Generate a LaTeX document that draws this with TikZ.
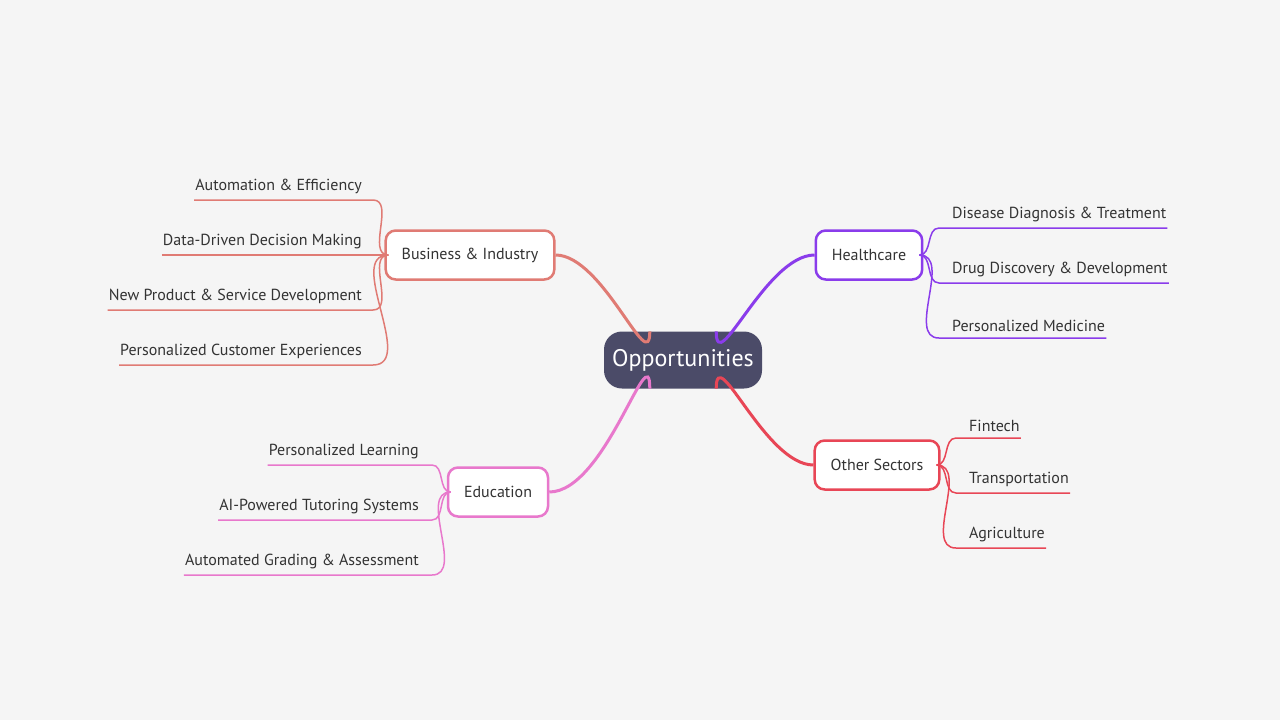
\documentclass[tikz,border=0pt]{standalone}
\usepackage{fontspec}
\setmainfont{PT Sans}
\usetikzlibrary{calc}
\definecolor{bgcol}{HTML}{F5F5F5}
\definecolor{centercol}{HTML}{4B4B68}
\definecolor{bizcol}{HTML}{E07B74}
\definecolor{educol}{HTML}{E878CC}
\definecolor{healthcol}{HTML}{8A3CEB}
\definecolor{othercol}{HTML}{E84656}
\definecolor{txtcol}{HTML}{333333}
\tikzset{
  topic/.style={draw=#1, line width=2.5pt, fill=white, rounded corners=10pt,
    minimum height=49pt, inner xsep=16pt, font=\fontsize{16}{18}\selectfont, text=txtcol},
  leaf/.style={inner xsep=1pt, inner ysep=6pt, font=\fontsize{16}{18}\selectfont, text=txtcol},
  branch/.style={draw=#1, line width=3pt},
  twig/.style={draw=#1, line width=1.5pt},
}
\begin{document}
\begin{tikzpicture}[x=1pt, y=-1pt]
\fill[bgcol] (0,0) rectangle (1280,720);
\useasboundingbox (0,0) rectangle (1280,720);
% center
\node[fill=centercol, text=white, rounded corners=18pt, minimum width=158pt, minimum height=57pt,
  font=\fontsize{24}{28}\selectfont] (Opp) at (683,360) {Opportunities};
% main topics
\node[topic=bizcol] (Biz) at (470,255) {Business \& Industry};
\node[topic=educol] (Edu) at (498,492) {Education};
\node[topic=healthcol] (Health) at (869,255) {Healthcare};
\node[topic=othercol] (Other) at (877,465) {Other Sectors};
\draw[branch=bizcol] (Opp.north west)+(46,0) to[out=270,in=0] (Biz.east);
\draw[branch=healthcol] (Opp.north east)+(-46,0) to[out=270,in=180] (Health.west);
\draw[branch=educol] (Opp.south west)+(46,0) to[out=90,in=0] (Edu.east);
\draw[branch=othercol] (Opp.south east)+(-46,0) to[out=90,in=180] (Other.west);
% business leaves
\foreach \name/\y/\txt in {b1/200/Automation \& Efficiency, b2/255/Data-Driven Decision Making,
  b3/310/New Product \& Service Development, b4/365/Personalized Customer Experiences}{
  \node[leaf, anchor=south east] (\name) at (363,\y) {\txt};
  \draw[twig=bizcol] (\name.south west) -- ($(\name.south east)+(10,0)$)
    to[out=0,in=180] ($(Biz.west)+(4,0)$);
}
% education leaves
\foreach \name/\y/\txt in {e1/465/Personalized Learning, e2/520/AI-Powered Tutoring Systems,
  e3/575/Automated Grading \& Assessment}{
  \node[leaf, anchor=south east] (\name) at (420,\y) {\txt};
  \draw[twig=educol] (\name.south west) -- ($(\name.south east)+(12,0)$)
    to[out=0,in=180] ($(Edu.west)+(4,0)$);
}
% healthcare leaves
\foreach \name/\y/\txt in {h1/228/Disease Diagnosis \& Treatment, h2/283/Drug Discovery \& Development,
  h3/338/Personalized Medicine}{
  \node[leaf, anchor=south west] (\name) at (951,\y) {\txt};
  \draw[twig=healthcol] ($(Health.east)+(-4,0)$) to[out=0,in=180]
    ($(\name.south west)+(-12,0)$) -- (\name.south east);
}
% other sectors leaves
\foreach \name/\y/\txt in {o1/438/Fintech, o2/493/Transportation, o3/548/Agriculture}{
  \node[leaf, anchor=south west] (\name) at (968,\y) {\txt};
  \draw[twig=othercol] ($(Other.east)+(-4,0)$) to[out=0,in=180]
    ($(\name.south west)+(-12,0)$) -- (\name.south east);
}
\end{tikzpicture}
\end{document}
